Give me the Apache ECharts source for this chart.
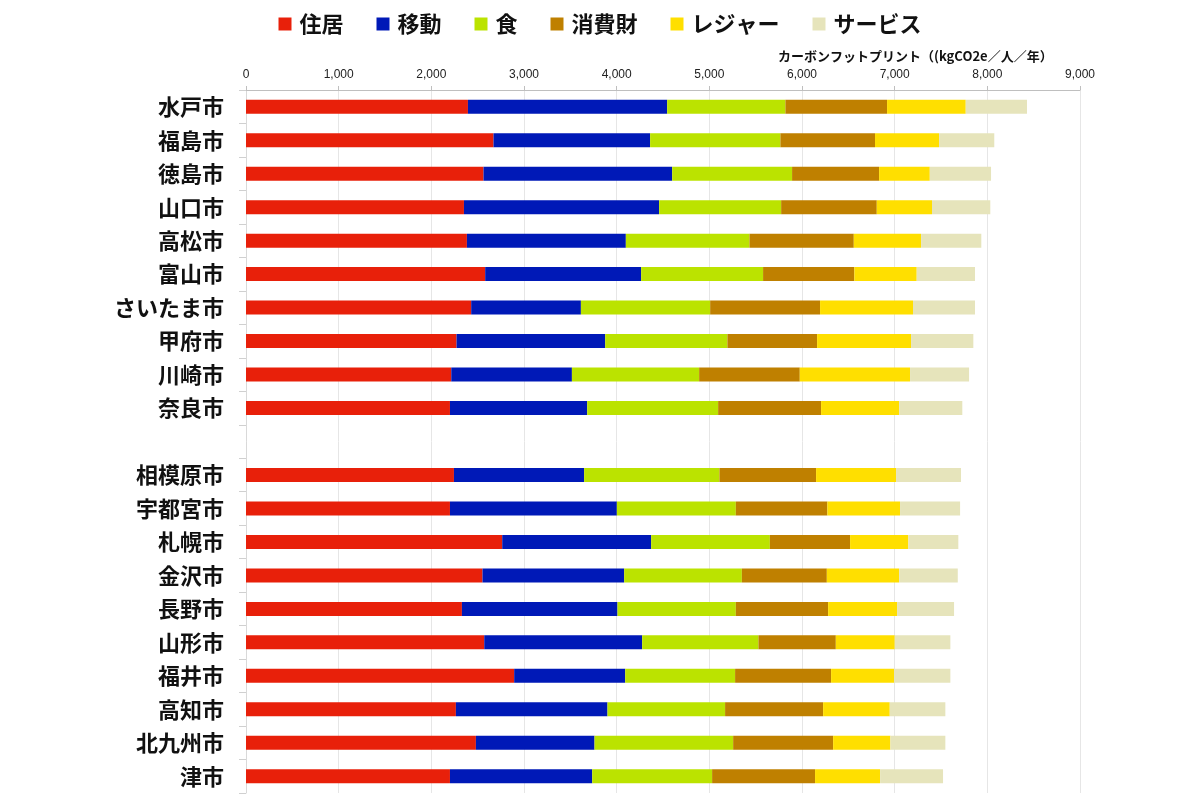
<!DOCTYPE html>
<html><head><meta charset="utf-8">
<script src="https://cdn.jsdelivr.net/npm/echarts@6/dist/echarts.min.js"></script>
<style>html,body{margin:0;padding:0;background:#fff}#c{width:1200px;height:800px}</style>
</head><body><div id="c"></div>
<script>
const cities = ['水戸市','福島市','徳島市','山口市','高松市','富山市','さいたま市','甲府市','川崎市','奈良市','',
  '相模原市','宇都宮市','札幌市','金沢市','長野市','山形市','福井市','高知市','北九州市','津市'];
const seriesNames = ['住居','移動','食','消費財','レジャー','サービス'];
const housing  = [2395,2671,2563,2352,2384,2581,2430,2272,2215,2201,null,2244,2201,2765,2552,2330,2571,2894,2265,2481,2201];
const mobility = [2150,1690,2036,2106,1715,1683,1184,1604,1302,1481,null,1405,1801,1607,1529,1679,1704,1198,1636,1280,1535];
const food     = [1276,1406,1294,1317,1334,1316,1395,1319,1373,1413,null,1460,1284,1281,1270,1277,1255,1186,1269,1496,1294];
const goods    = [1097,1021,939,1032,1126,985,1186,968,1086,1111,null,1043,988,866,917,996,835,1036,1058,1079,1111];
const leisure  = [849,691,547,596,726,673,1003,1014,1190,842,null,863,784,629,780,744,636,680,719,618,702];
const services = [661,596,661,629,650,629,669,672,637,682,null,701,648,539,633,615,600,607,600,593,679];
const colors = ['#e8200a','#0019b7','#bbe300','#bf8000','#ffdf00','#e6e4bb'];
const allData = [housing,mobility,food,goods,leisure,services];
const FONT = '"Noto Sans CJK JP","Noto Sans",sans-serif';

const chart = echarts.init(document.getElementById('c'));
chart.setOption({
  animation:false,
  color: colors,
  title:{text:'カーボンフットプリント（(kgCO2e／人／年）',left:773,top:45,
    textStyle:{fontSize:13,fontWeight:'bold',color:'#111',fontFamily:FONT}},
  legend:{top:8,left:'center',icon:'rect',itemWidth:13,itemHeight:13,itemGap:33,
    textStyle:{fontSize:22,fontWeight:'bold',color:'#111',fontFamily:FONT,padding:[0,0,0,3]},
    data:seriesNames},
  grid:{left:246,right:120,top:90,bottom:7,containLabel:false},
  xAxis:{type:'value',position:'top',min:0,max:9000,interval:1000,
    axisLine:{show:true,lineStyle:{color:'#bfbfbf'}},
    axisTick:{show:true,length:4,lineStyle:{color:'#bfbfbf'}},
    axisLabel:{fontSize:12,color:'#222',margin:9,fontFamily:'"Liberation Sans",sans-serif',
      formatter:v=>v.toLocaleString('en-US')},
    splitLine:{show:true,lineStyle:{color:'#e6e6e6'}}},
  yAxis:{type:'category',inverse:true,data:cities,
    axisLine:{show:true,lineStyle:{color:'#d9d9d9'}},
    axisTick:{show:true,length:7,lineStyle:{color:'#d0d0d0'}},
    axisLabel:{fontSize:22,fontWeight:'bold',color:'#111',margin:22,fontFamily:FONT}},
  series: seriesNames.map((n,i)=>({name:n,type:'bar',stack:'total',barWidth:14,
    itemStyle:{color:colors[i]},data:allData[i]}))
});
</script></body></html>
